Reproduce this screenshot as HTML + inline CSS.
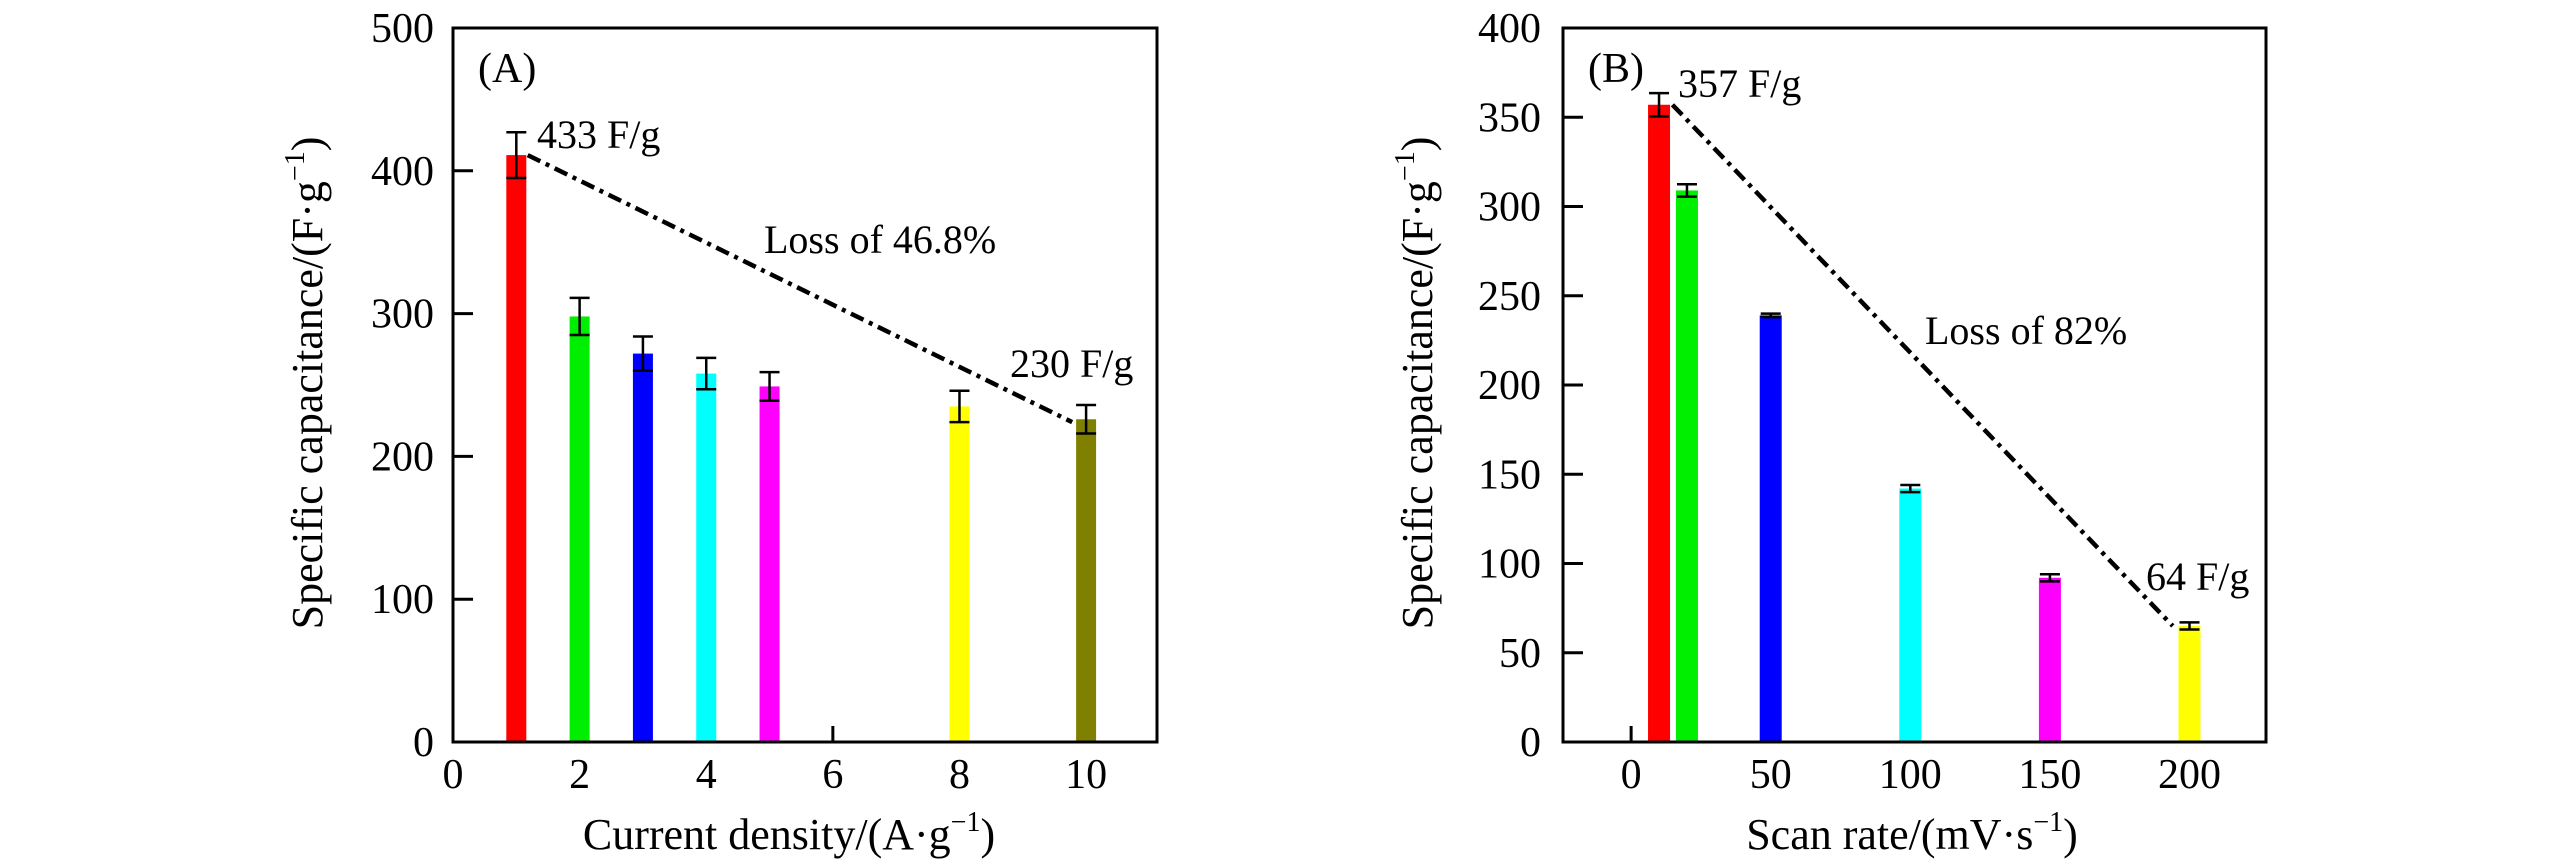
<!DOCTYPE html>
<html><head><meta charset="utf-8">
<style>
html,body{margin:0;padding:0;background:#fff;}
svg{display:block;}
svg, text, tspan{font-family:"Liberation Serif","Times New Roman",serif !important;}
</style></head>
<body>
<svg id="fig" width="2567" height="867" viewBox="0 0 2567 867" xmlns="http://www.w3.org/2000/svg" font-family="Liberation Serif, serif">
<g id="panelA"></g>
<g id="panelB"></g>
</svg>
<script>
// Panel A data
const aCategories = [1, 2, 3, 4, 5, 8, 10];
const aValues = [411, 298, 272, 258, 249, 235, 226];
const aErrors = [16, 13, 12, 11, 10, 11, 10];
const aColors = ["#ff0000", "#00ee00", "#0000ff", "#00ffff", "#ff00ff", "#ffff00", "#808000"];
const aXTicks = [0, 2, 4, 6, 8, 10];
const aYTicks = [0, 100, 200, 300, 400, 500];
const aTrend = [[1.18, 411], [9.78, 224]];
// Panel B data
const bCategories = [10, 20, 50, 100, 150, 200];
const bValues = [357, 309, 239, 142, 92, 65];
const bErrors = [6.5, 3.5, 1, 2, 2, 2];
const bColors = ["#ff0000", "#00ee00", "#0000ff", "#00ffff", "#ff00ff", "#ffff00"];
const bXTicks = [0, 50, 100, 150, 200];
const bYTicks = [0, 50, 100, 150, 200, 250, 300, 350, 400];
const bTrend = [[14.8, 357], [194, 65]];

const NS = "http://www.w3.org/2000/svg";
const FONT = "Liberation Serif, Times New Roman, serif";
function mk(parent, tag, attrs, text) {
  const e = document.createElementNS(NS, tag);
  for (const k in attrs) e.setAttribute(k, attrs[k]);
  if (text !== undefined) e.textContent = text;
  parent.appendChild(e);
  return e;
}

function drawPanel(g, cfg) {
  const {L, R, T, B, xmin, xmax, ymin, ymax, cats, vals, errs, cols, xticks, yticks, trend, barW, tickLblRight} = cfg;
  const sx = v => L + (v - xmin) / (xmax - xmin) * (R - L);
  const sy = v => B - (v - ymin) / (ymax - ymin) * (B - T);
  xticks.forEach(t => {
    const tk = mk(g, "line", {x1: sx(t), x2: sx(t), y1: B, y2: B - 16, stroke: "#000", "stroke-width": 3});
    
    
    const lb = mk(g, "text", {x: sx(t), y: 788, "font-size": 42, "text-anchor": "middle", "font-family": FONT}, String(t));
    
    
  });
  yticks.forEach(t => {
    const tk = mk(g, "line", {x1: L, x2: L + 20, y1: sy(t), y2: sy(t), stroke: "#000", "stroke-width": 3});
    
    
    const lb = mk(g, "text", {x: tickLblRight, y: sy(t) + 14, "font-size": 42, "text-anchor": "end", "font-family": FONT}, String(t));
    
    
  });
  cats.forEach((c, i) => {
    const x = sx(c), y = sy(vals[i]);
    const r = mk(g, "rect", {x: x - barW / 2, y: y, width: barW, height: B - y, fill: cols[i]});
    
    
    const yt = sy(vals[i] + errs[i]), yb = sy(vals[i] - errs[i]);
    const eb = mk(g, "path", {d: `M${x},${yt}V${yb}M${x-10},${yt}H${x+10}M${x-10},${yb}H${x+10}`, stroke: "#000", "stroke-width": 2.5, fill: "none"});
    
    
  });
  const tl = mk(g, "line", {x1: sx(trend[0][0]), y1: sy(trend[0][1]), x2: sx(trend[1][0]), y2: sy(trend[1][1]), stroke: "#000", "stroke-width": 4.5, "stroke-dasharray": "14,6,4,6"});
  
  
  const fr = mk(g, "rect", {x: L, y: T, width: R - L, height: B - T, fill: "none", stroke: "#000", "stroke-width": 3});
  
  
}

drawPanel(document.getElementById("panelA"), {
  L: 453, R: 1157, T: 28, B: 742, xmin: 0, xmax: 11.12, ymin: 0, ymax: 500,
  cats: aCategories, vals: aValues, errs: aErrors, cols: aColors,
  xticks: aXTicks, yticks: aYTicks, trend: aTrend, barW: 20, tickLblRight: 434
});
drawPanel(document.getElementById("panelB"), {
  L: 1563, R: 2266, T: 28, B: 742, xmin: -24.4, xmax: 227.4, ymin: 0, ymax: 400,
  cats: bCategories, vals: bValues, errs: bErrors, cols: bColors,
  xticks: bXTicks, yticks: bYTicks, trend: bTrend, barW: 22, tickLblRight: 1541
});
</script>
<svg style="position:absolute;left:0;top:0" width="2567" height="867" xmlns="http://www.w3.org/2000/svg" font-family="Liberation Serif, Times New Roman, serif">
<g font-family="Liberation Serif, Times New Roman, serif">
<text x="478" y="82" font-size="42">(A)</text>
<text x="537" y="148" font-size="40">433 F/g</text>
<text x="764" y="253" font-size="40">Loss of 46.8%</text>
<text x="1010" y="377" font-size="40">230 F/g</text>
<text x="789" y="849" font-size="44" text-anchor="middle">Current density/(A·g<tspan font-size="28" dy="-18">−1</tspan><tspan dy="18">)</tspan></text>
<text transform="translate(322,383) rotate(-90)" font-size="44" text-anchor="middle">Specific capacitance/(F·g<tspan font-size="28" dy="-18">−1</tspan><tspan dy="18">)</tspan></text>
</g>
<g font-family="Liberation Serif, Times New Roman, serif">
<text x="1588" y="82" font-size="42">(B)</text>
<text x="1678" y="97" font-size="40">357 F/g</text>
<text x="1925" y="344" font-size="40">Loss of 82%</text>
<text x="2146" y="590" font-size="40">64 F/g</text>
<text x="1912" y="849" font-size="44" text-anchor="middle">Scan rate/(mV·s<tspan font-size="28" dy="-18">−1</tspan><tspan dy="18">)</tspan></text>
<text transform="translate(1432,383) rotate(-90)" font-size="44" text-anchor="middle">Specific capacitance/(F·g<tspan font-size="28" dy="-18">−1</tspan><tspan dy="18">)</tspan></text>
</g>
</svg>
</body></html>
